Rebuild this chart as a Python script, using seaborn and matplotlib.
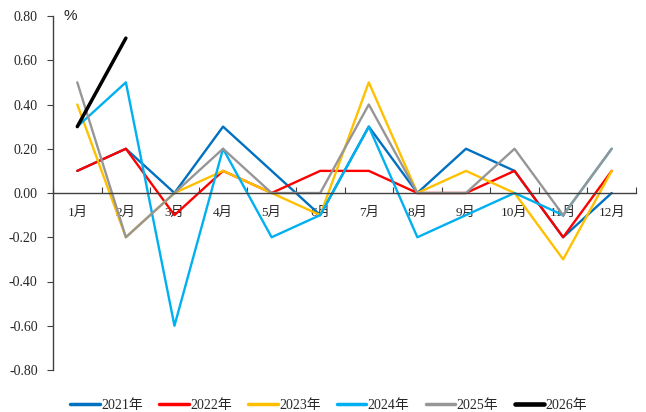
import numpy as np
import pandas as pd
import matplotlib
matplotlib.use("Agg")
import matplotlib.pyplot as plt
from matplotlib.ticker import FuncFormatter, FixedLocator
import seaborn as sns

months = ["1月", "2月", "3月", "4月", "5月", "6月", "7月", "8月", "9月", "10月", "11月", "12月"]
years = ["2021年", "2022年", "2023年", "2024年", "2025年", "2026年"]
nan = np.nan
v2021 = [0.1, 0.2, 0.0, 0.3, 0.1, -0.1, 0.3, 0.0, 0.2, 0.1, -0.2, 0.0]
v2022 = [0.1, 0.2, -0.1, 0.1, 0.0, 0.1, 0.1, 0.0, 0.0, 0.1, -0.2, 0.1]
v2023 = [0.4, -0.2, 0.0, 0.1, 0.0, -0.1, 0.5, 0.0, 0.1, 0.0, -0.3, 0.1]
v2024 = [0.3, 0.5, -0.6, 0.2, -0.2, -0.1, 0.3, -0.2, -0.1, 0.0, -0.1, 0.2]
v2025 = [0.5, -0.2, 0.0, 0.2, 0.0, 0.0, 0.4, 0.0, 0.0, 0.2, -0.1, 0.2]
v2026 = [0.3, 0.7, nan, nan, nan, nan, nan, nan, nan, nan, nan, nan]
series = [v2021, v2022, v2023, v2024, v2025, v2026]
colors = ["#0070C0", "#FF0000", "#FFC000", "#00B0F0", "#969696", "#000000"]
widths = [1.7, 1.7, 1.7, 1.7, 1.7, 2.5]

sns.set_style("white")
plt.rcParams["font.family"] = ["Liberation Serif", "Noto Sans CJK SC"]

fig = plt.figure(figsize=(6.46, 4.12), dpi=100)
ax = fig.add_axes([53 / 646, 42 / 412, 583 / 646, 354 / 412])

for yr, vals, c, w in zip(years, series, colors, widths):
    df = pd.DataFrame({"pos": np.arange(len(months)), "val": vals}).dropna()
    sns.lineplot(data=df, x="pos", y="val", color=c, linewidth=w, label=yr, ax=ax, sort=False)

ax.set_xlim(-0.5, len(months) - 0.5)
ax.set_ylim(-0.8, 0.8)
ax.set_xlabel("")
ax.set_ylabel("")

for s in ["top", "right"]:
    ax.spines[s].set_visible(False)
ax.spines["bottom"].set_position(("data", 0))
ax.spines["bottom"].set_color("#404040")
ax.spines["bottom"].set_linewidth(1.0)
ax.spines["left"].set_color("#404040")
ax.spines["left"].set_linewidth(1.0)

ax.set_xticks(np.arange(len(months)))
ax.set_xticklabels(months, fontsize=9.5)
ax.xaxis.set_minor_locator(FixedLocator(np.arange(-0.5, len(months), 1.0)))
ax.tick_params(axis="x", which="major", length=0, pad=10)
ax.tick_params(axis="x", which="minor", direction="in", length=4, width=0.8, color="#404040", bottom=True)

yt = np.round(np.arange(-0.8, 0.81, 0.2), 2)
ax.set_yticks(yt)
ax.yaxis.set_major_formatter(FuncFormatter(lambda v, p: ("%.2f" % v).replace("-0.00", "0.00")))
ax.tick_params(axis="y", which="major", direction="out", length=4, width=0.8, color="#404040", left=True, labelsize=10, pad=7)

ax.text(0.018, 1.0, "%", transform=ax.transAxes, fontsize=11, family=["Liberation Sans"], va="center", ha="left")

leg = ax.legend(loc="center", bbox_to_anchor=(0.5 * 646 / 583 - 53 / 583 + 0.01, -0.1), ncol=6, frameon=False,
                fontsize=10, handlelength=2.1, handletextpad=0.1, columnspacing=1.2)
for line, w in zip(leg.get_lines(), widths):
    line.set_linewidth(w + 0.8)

fig.savefig("out.png", dpi=100)
